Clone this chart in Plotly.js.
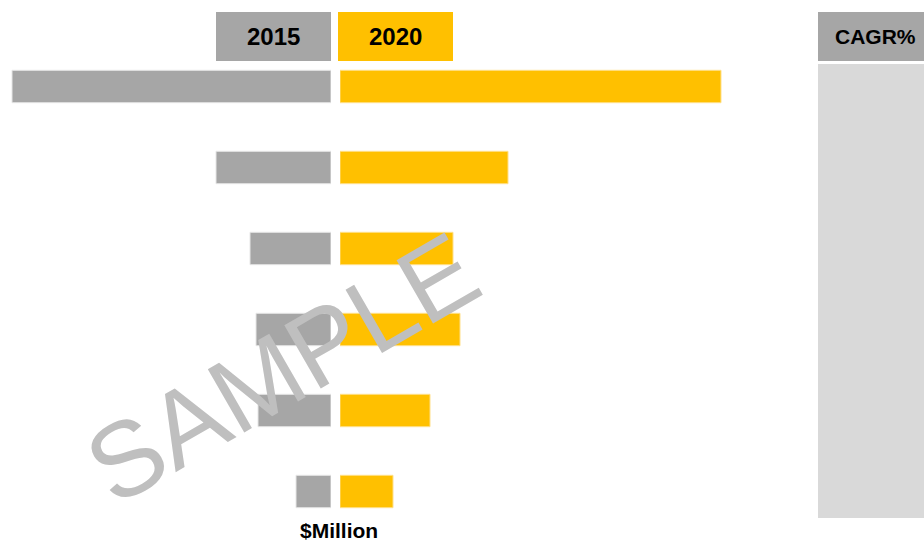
<!DOCTYPE html>
<html>
<head>
<meta charset="utf-8">
<script src="https://cdn.plot.ly/plotly-3.0.1.min.js"></script>
<style>html,body{margin:0;padding:0;background:#fff;}#chart{width:924px;height:542px;}</style>
</head>
<body>
<div id="chart"></div>
<script>
// Data ($Million)
const categories = ["Segment 1", "Segment 2", "Segment 3", "Segment 4", "Segment 5", "Segment 6"];
const values2015 = [31.9, 11.5, 8.1, 7.5, 7.3, 3.5];
const values2020 = [38.1, 16.8, 11.3, 12.0, 9.0, 5.3];
const seriesNames = ["2015", "2020"];
const cagrLabel = "CAGR%";
const unitLabel = "$Million";

const W = 924, H = 542;
const px = x => x / W;
const py = y => (H - y) / H;

const GRAY = "#A6A6A6", YELLOW = "#FFC000", PANEL = "#D9D9D9";
const FONT = "Liberation Sans, Arial, sans-serif";

const traces = [
  {
    type: "bar", orientation: "h", name: seriesNames[0],
    x: values2015, y: categories, xaxis: "x", yaxis: "y",
    width: 0.4,
    marker: {color: GRAY, line: {color: "#E6E6E6", width: 1}},
    hoverinfo: "x+y"
  },
  {
    type: "bar", orientation: "h", name: seriesNames[1],
    x: values2020, y: categories, xaxis: "x2", yaxis: "y",
    width: 0.4,
    marker: {color: YELLOW, line: {color: "#FFE08A", width: 1}},
    hoverinfo: "x+y"
  }
];

const layout = {
  width: W, height: H,
  margin: {l: 0, r: 0, t: 0, b: 0, pad: 0},
  paper_bgcolor: "#FFFFFF", plot_bgcolor: "rgba(0,0,0,0)",
  showlegend: false,
  xaxis: {domain: [0, px(331)], range: [33.1, 0], visible: false, fixedrange: true, anchor: "y"},
  xaxis2: {domain: [px(340), 1], range: [0, 58.4], visible: false, fixedrange: true, anchor: "y"},
  yaxis: {type: "category", categoryorder: "array", categoryarray: categories,
          range: [5.5, -0.5], domain: [py(532), py(46)], visible: false, fixedrange: true},
  shapes: [
    {type: "rect", xref: "paper", yref: "paper", x0: px(216), x1: px(331), y0: py(61), y1: py(12), fillcolor: GRAY, line: {width: 0}, layer: "below"},
    {type: "rect", xref: "paper", yref: "paper", x0: px(338), x1: px(453), y0: py(61), y1: py(12), fillcolor: YELLOW, line: {width: 0}, layer: "below"},
    {type: "rect", xref: "paper", yref: "paper", x0: px(818), x1: px(924), y0: py(61), y1: py(12), fillcolor: GRAY, line: {width: 0}, layer: "below"},
    {type: "rect", xref: "paper", yref: "paper", x0: px(818), x1: px(924), y0: py(518), y1: py(64), fillcolor: PANEL, line: {width: 0}, layer: "below"}
  ],
  annotations: [
    {xref: "paper", yref: "paper", x: px(273.5), y: py(37), text: "<b>" + seriesNames[0] + "</b>", showarrow: false,
     xanchor: "center", yanchor: "middle", font: {family: FONT, size: 24, color: "#000"}},
    {xref: "paper", yref: "paper", x: px(395.5), y: py(37), text: "<b>" + seriesNames[1] + "</b>", showarrow: false,
     xanchor: "center", yanchor: "middle", font: {family: FONT, size: 24, color: "#000"}},
    {xref: "paper", yref: "paper", x: px(875), y: py(37), text: "<b>" + cagrLabel + "</b>", showarrow: false,
     xanchor: "center", yanchor: "middle", font: {family: FONT, size: 21, color: "#000"}},
    {xref: "paper", yref: "paper", x: px(339), y: py(530), text: "<b>" + unitLabel + "</b>", showarrow: false,
     xanchor: "center", yanchor: "middle", borderpad: 0, font: {family: FONT, size: 21, color: "#000"}},
    {xref: "paper", yref: "paper", x: px(282), y: py(368), text: "SAMPLE", showarrow: false,
     xanchor: "center", yanchor: "middle", textangle: -30,
     font: {family: FONT, size: 106, color: "#BFBFBF"}}
  ]
};

Plotly.newPlot("chart", traces, layout, {staticPlot: true, displayModeBar: false});
</script>
</body>
</html>
